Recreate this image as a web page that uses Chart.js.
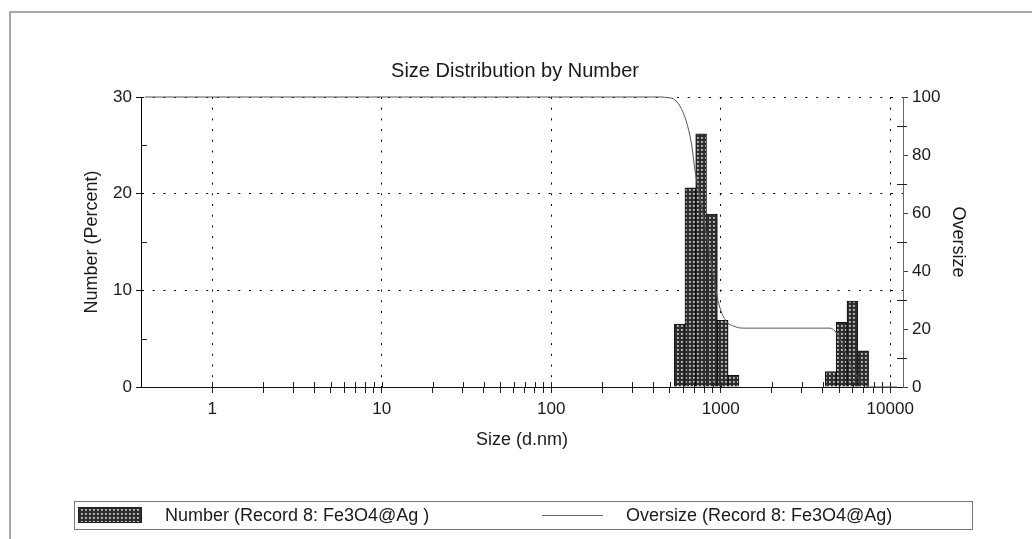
<!DOCTYPE html>
<html>
<head>
<meta charset="utf-8">
<title>Size Distribution by Number</title>
<script src="https://cdn.jsdelivr.net/npm/chart.js@4.4.1/dist/chart.umd.min.js"></script>
<style>
  html, body { margin: 0; padding: 0; background: #fff; }
  #wrap { width: 1032px; height: 539px; }
</style>
</head>
<body>
<div id="wrap"><canvas id="sizeChart" width="1032" height="539"></canvas></div>
<script>
// Size distribution by number (DLS), record 8: Fe3O4@Ag

// size classes (geometric centre, d.nm) and number % in each class
var binSizes = [572, 662, 766, 888, 1028, 1190, 1378, 1596, 1848, 2140, 2478, 2870, 3323, 3848, 4461, 5166, 5983, 6929];
var numberPercent = [6.5, 20.6, 26.2, 17.9, 6.9, 1.2, 0, 0, 0, 0, 0, 0, 0, 0, 1.6, 6.7, 8.9, 3.75];

// oversize curve (cumulative %, right axis)
var oversizeSizes = [0.4, 450, 482, 527, 577, 631, 676, 700, 739, 791, 847, 907, 971, 1064, 1218, 1365, 4400, 4846, 5300, 5800, 6400, 7000, 7500, 11000];
var oversizeValues = [100, 100, 99.8, 99.3, 96.7, 91, 83, 76, 68, 58.7, 48.4, 38, 29, 23.1, 20.8, 20.3, 20.3, 18.5, 13.5, 8, 3.5, 1, 0, 0];

// axis ticks
var xTickValues = [1, 2, 3, 4, 5, 6, 7, 8, 9,
  10, 20, 30, 40, 50, 60, 70, 80, 90,
  100, 200, 300, 400, 500, 600, 700, 800, 900,
  1000, 2000, 3000, 4000, 5000, 6000, 7000, 8000, 9000, 10000];
var yMinorTicks = [5, 15, 25];
var y2MinorTicks = [10, 30, 50, 70, 90];
var xMin = 0.38, xMax = 11900;

var FONT = '"Liberation Sans", Arial, Helvetica, sans-serif';
var TEXT = '#1a1a1a';
var CHART_TITLE = 'Size Distribution by Number';

function isDecade(v) {
  var l = Math.log10(v);
  return Math.abs(l - Math.round(l)) < 1e-9;
}

// dotted-grid fill used by the bars and the legend swatch
function makePattern() {
  var c = document.createElement('canvas');
  c.width = 4; c.height = 4;
  var g = c.getContext('2d');
  g.fillStyle = '#2e2e2e'; g.fillRect(0, 0, 4, 4);
  g.fillStyle = '#9a9a9a'; g.fillRect(1, 1, 2, 2);
  g.fillStyle = '#d6d6d6'; g.fillRect(1, 1, 1, 1);
  return g.createPattern(c, 'repeat');
}
var barPattern = makePattern();

var framePlugin = {
  id: 'frame',
  beforeDraw: function(chart) {
    var ctx = chart.ctx;
    ctx.save();
    ctx.fillStyle = '#fff';
    ctx.fillRect(0, 0, chart.width, chart.height);
    ctx.strokeStyle = '#a8a8a8';
    ctx.lineWidth = 2;
    ctx.strokeRect(10, 12, chart.width + 20, chart.height + 20);
    // title
    ctx.fillStyle = TEXT;
    ctx.font = '20px ' + FONT;
    ctx.textAlign = 'center';
    ctx.textBaseline = 'middle';
    ctx.fillText(CHART_TITLE, 515, 71);
    ctx.restore();
  }
};

var extrasPlugin = {
  id: 'extras',
  afterDraw: function(chart) {
    var ctx = chart.ctx, a = chart.chartArea;
    var sx = chart.scales.x, sy = chart.scales.y, sy2 = chart.scales.y2;
    ctx.save();
    // inner minor ticks
    ctx.strokeStyle = '#222';
    ctx.lineWidth = 1;
    ctx.beginPath();
    xTickValues.forEach(function(v) {
      var px = Math.round(sx.getPixelForValue(v)) + 0.5;
      ctx.moveTo(px, a.bottom);
      ctx.lineTo(px, a.bottom - 5);
    });
    yMinorTicks.forEach(function(v) {
      var py = Math.round(sy.getPixelForValue(v)) + 0.5;
      ctx.moveTo(a.left, py);
      ctx.lineTo(a.left + 6, py);
    });
    y2MinorTicks.forEach(function(v) {
      var py = Math.round(sy2.getPixelForValue(v)) + 0.5;
      ctx.moveTo(a.right - 6, py);
      ctx.lineTo(a.right + 4, py);
    });
    ctx.stroke();

    // legend box
    var ds = chart.data.datasets;
    ctx.strokeStyle = '#777';
    ctx.strokeRect(74.5, 501.5, 898, 28);
    ctx.fillStyle = barPattern;
    ctx.fillRect(78, 507, 64, 16);
    ctx.strokeStyle = '#222';
    ctx.strokeRect(78.5, 507.5, 63, 15);
    ctx.fillStyle = TEXT;
    ctx.font = '18px ' + FONT;
    ctx.textBaseline = 'middle';
    ctx.textAlign = 'left';
    ctx.fillText(ds[0].label, 165, 516);
    ctx.strokeStyle = '#666';
    ctx.beginPath();
    ctx.moveTo(542, 515.5);
    ctx.lineTo(603, 515.5);
    ctx.stroke();
    ctx.fillText(ds[1].label, 626, 516);
    ctx.restore();
  }
};

var ctx = document.getElementById('sizeChart');
new Chart(ctx, {
  type: 'bar',
  data: {
    datasets: [
      {
        type: 'bar',
        label: 'Number (Record 8: Fe3O4@Ag )',
        data: binSizes.map(function(s, i) { return { x: s, y: numberPercent[i] }; }),
        xAxisID: 'x',
        yAxisID: 'y',
        backgroundColor: barPattern,
        borderColor: '#111',
        borderWidth: 1,
        barThickness: 'flex',
        barPercentage: 1,
        categoryPercentage: 1,
        order: 1
      },
      {
        type: 'line',
        label: 'Oversize (Record 8: Fe3O4@Ag)',
        data: oversizeSizes.map(function(s, i) { return { x: s, y: oversizeValues[i] }; }),
        xAxisID: 'x',
        yAxisID: 'y2',
        borderColor: '#555',
        borderWidth: 1,
        pointRadius: 0,
        fill: false,
        cubicInterpolationMode: 'monotone',
        clip: 3,
        order: 0
      }
    ]
  },
  options: {
    responsive: false,
    animation: false,
    devicePixelRatio: 1,
    layout: { padding: { left: 70, right: 47, top: 97, bottom: 82 } },
    plugins: {
      legend: { display: false },
      tooltip: { enabled: false },
      title: { display: false }
    },
    scales: {
      x: {
        type: 'logarithmic',
        position: 'bottom',
        min: xMin,
        max: xMax,
        offset: false,
        afterBuildTicks: function(scale) {
          scale.ticks = xTickValues.map(function(v) { return { value: v }; });
        },
        afterFit: function(scale) { scale.height = 70; },
        ticks: {
          autoSkip: false,
          maxRotation: 0,
          padding: 6,
          color: TEXT,
          font: { family: FONT, size: 17 },
          callback: function(value) { return isDecade(value) ? String(value) : ''; }
        },
        grid: {
          offset: false,
          color: function(c) { return (c.tick && isDecade(c.tick.value)) ? '#000' : 'rgba(0,0,0,0)'; },
          tickColor: '#222',
          tickLength: 6
        },
        border: { display: true, color: '#111', width: 1, dash: [2, 8.7] },
        title: {
          display: true,
          text: 'Size (d.nm)',
          color: TEXT,
          font: { family: FONT, size: 18 },
          padding: { top: 4, bottom: 6 }
        }
      },
      y: {
        type: 'linear',
        position: 'left',
        min: 0,
        max: 30,
        afterFit: function(scale) { scale.width = 71; },
        ticks: {
          stepSize: 10,
          padding: 4,
          color: TEXT,
          font: { family: FONT, size: 17 }
        },
        grid: {
          color: function(c) { return (c.tick && c.tick.value > 0) ? '#000' : 'rgba(0,0,0,0)'; },
          tickColor: '#111',
          tickLength: 5
        },
        border: { display: true, color: '#000', width: 1, dash: [2, 8.7] },
        title: {
          display: true,
          text: 'Number (Percent)',
          color: TEXT,
          font: { family: FONT, size: 18 },
          padding: { top: 11, bottom: 4 }
        }
      },
      y2: {
        type: 'linear',
        position: 'right',
        min: 0,
        max: 100,
        afterFit: function(scale) { scale.width = 82; },
        ticks: {
          stepSize: 20,
          padding: 4,
          color: TEXT,
          font: { family: FONT, size: 17 }
        },
        grid: {
          drawOnChartArea: false,
          tickColor: '#444',
          tickLength: 5
        },
        border: { display: true, color: '#666', width: 1 },
        title: {
          display: true,
          text: 'Oversize',
          color: TEXT,
          font: { family: FONT, size: 18 },
          padding: { top: 16, bottom: 4 }
        }
      }
    }
  },
  plugins: [framePlugin, extrasPlugin]
});
</script>
</body>
</html>
